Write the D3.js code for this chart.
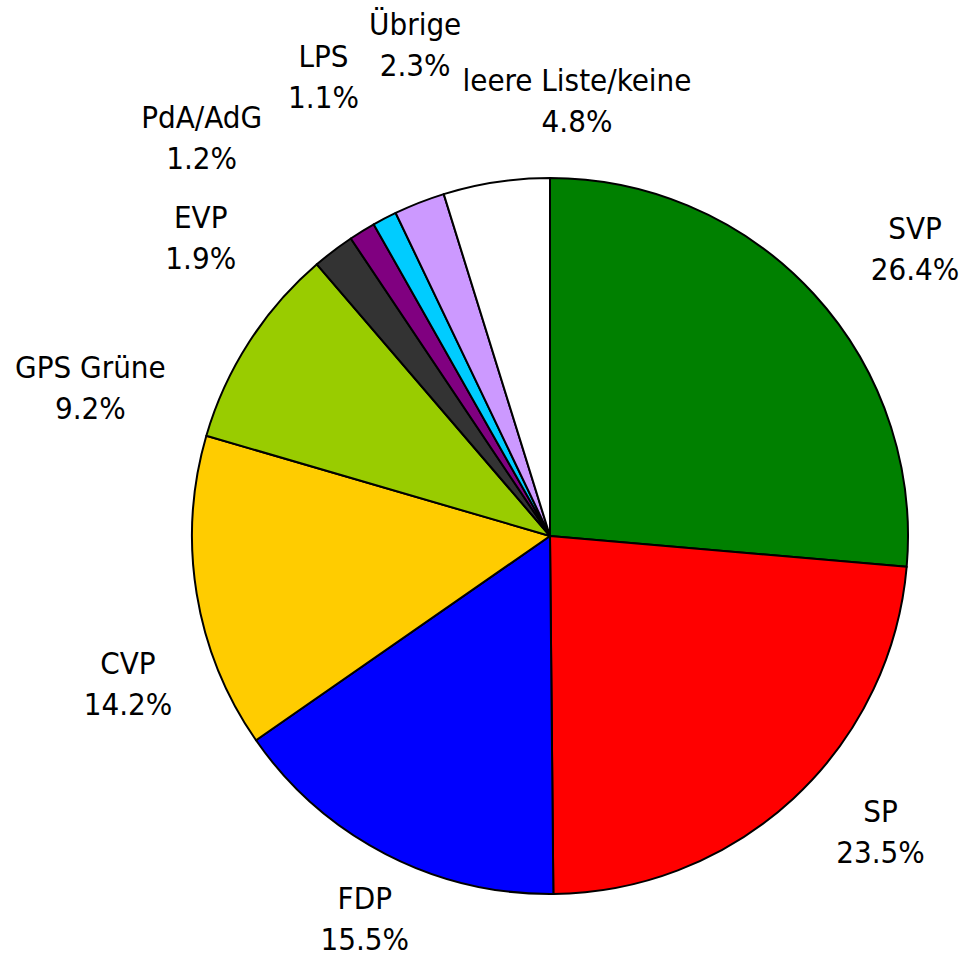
<!DOCTYPE html>
<meta charset="utf-8">
<script src="https://d3js.org/d3.v7.min.js"></script>
<style>
body{margin: 0; background: #fff;}
text{font-family: "DejaVu Sans Condensed", "DejaVu Sans", sans-serif; font-size: 31px; fill: #000;}
</style>
<div id="vis"></div>
<script>

// Data
var parties = ["SVP", "SP", "FDP", "CVP", "GPS Grüne", "EVP", "PdA/AdG", "LPS", "Übrige", "leere Liste/keine"];
var shares  = [26.4, 23.5, 15.5, 14.2, 9.2, 1.9, 1.2, 1.1, 2.3, 4.8];
var colors  = ["#008000", "#ff0000", "#0000ff", "#ffcc00", "#99cc00", "#333333", "#800080", "#00ccff", "#cc99ff", "#ffffff"];

// Layout
var w = 967, h = 958;
var cx = 550, cy = 536, r = 358, labelR = 460;

// labels were moved by hand in the original, shift from default spot
var labelNudge = {
  "SVP": [26, 25], "SP": [18, -41], "FDP": [26, -25], "CVP": [32, 75],
  "GPS Grüne": [-73, 102], "EVP": [-71, 69], "PdA/AdG": [-107, -5],
  "LPS": [-14, -50], "Übrige": [33, -62], "leere Liste/keine": [96, 21]
};

var data = parties.map(function(p, i) { return {name: p, value: shares[i], color: colors[i]}; });

var svg = d3.select("#vis").append("svg")
    .attr("width", w)
    .attr("height", h);

var g = svg.append("g")
    .attr("transform", "translate(" + cx + "," + cy + ")");

var pie = d3.pie().sort(null).value(function(d) { return d.value; });
var arc = d3.arc().innerRadius(0).outerRadius(r);
var labelArc = d3.arc().innerRadius(labelR).outerRadius(labelR);

var arcs = pie(data);

g.selectAll(".slice")
    .data(arcs)
  .enter().append("path")
    .attr("class", "slice")
    .attr("d", arc)
    .attr("fill", function(d) { return d.data.color; })
    .attr("stroke", "#000")
    .attr("stroke-width", 2)
    .attr("stroke-linejoin", "round");

var labels = g.selectAll(".label")
    .data(arcs)
  .enter().append("text")
    .attr("class", "label")
    .attr("text-anchor", "middle")
    .attr("transform", function(d) {
      var c = labelArc.centroid(d), n = labelNudge[d.data.name];
      return "translate(" + (c[0] + n[0]) + "," + (c[1] + n[1]) + ")";
    });

labels.append("tspan")
    .attr("x", 0).attr("y", -11)
    .text(function(d) { return d.data.name; });

labels.append("tspan")
    .attr("x", 0).attr("y", 30)
    .text(function(d) { return d.data.value.toFixed(1) + "%"; });

</script>
